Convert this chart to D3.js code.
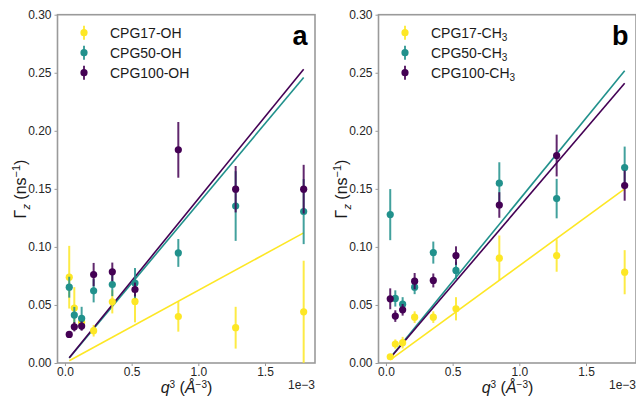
<!DOCTYPE html>
<html>
<head>
<meta charset="utf-8">
<script src="https://cdn.jsdelivr.net/npm/d3@7"></script>
<style>
  body { margin: 0; background: white; }
  text { font-family: "Liberation Sans", Arial, sans-serif; }
</style>
</head>
<body>
<main></main>
<script>
// q^3 values (units of 1e-3 A^-3)
const q3 = [0.032, 0.070, 0.125, 0.215, 0.355, 0.525, 0.85, 1.28, 1.79]

// panel a (OH)
const ohNames = ["CPG17-OH", "CPG50-OH", "CPG100-OH"]
const oh17 = [0.0739, 0.0473, 0.035, 0.0278, 0.0527, 0.053, 0.040, 0.0304, 0.0441]
const oh17err = [0.027, 0.018, 0.005, 0.005, 0.010, 0.018, 0.013, 0.018, 0.044]
const oh50 = [0.0653, 0.0413, 0.0384, 0.0622, 0.0676, 0.0688, 0.0948, 0.1352, 0.1304]
const oh50err = [0.009, 0.007, 0.010, 0.010, 0.010, 0.013, 0.012, 0.030, 0.028]
const oh100 = [0.0246, 0.0312, 0.0318, 0.0762, 0.0785, 0.0633, 0.1836, 0.1497, 0.1497]
const oh100err = [0.002, 0.004, 0.004, 0.010, 0.008, 0.006, 0.024, 0.020, 0.021]
const ohSlopes = [0.0626, 0.1374, 0.1414]

// panel b (CH3)
const chNames = ["CPG17-CH", "CPG50-CH", "CPG100-CH"]
const ch17 = [0.0054, 0.0163, 0.0175, 0.0395, 0.0395, 0.0467, 0.0903, 0.0926, 0.0782]
const ch17err = [0.002, 0.004, 0.005, 0.005, 0.005, 0.010, 0.0195, 0.014, 0.019]
const ch50 = [0.1278, 0.0556, 0.0507, 0.0653, 0.0951, 0.0797, 0.1549, 0.1416, 0.1684]
const ch50err = [0.022, 0.007, 0.006, 0.006, 0.0095, 0.0075, 0.018, 0.017, 0.018]
const ch100 = [0.0553, 0.0404, 0.0458, 0.0705, 0.0711, 0.0925, 0.1361, 0.1787, 0.1528]
const ch100err = [0.009, 0.005, 0.005, 0.007, 0.006, 0.008, 0.011, 0.018, 0.013]
const chSlopes = [0.0838, 0.1406, 0.1346]

const xTicks = [0.0, 0.5, 1.0, 1.5]
const yTicks = [0.00, 0.05, 0.10, 0.15, 0.20, 0.25, 0.30]

const colors = ["#fde725", "#21918c", "#440154"]

const svgWidth = 636
const svgHeight = 398

let svg = d3.select("main")
    .append("svg")
    .attr("width", svgWidth)
    .attr("height", svgHeight)

function drawPanel(left, names, sub, ys, errs, slopes, letter) {
    let xScale = d3.scaleLinear()
        .domain([-0.056, 1.875])
        .range([left, left + 257.5])

    let yScale = d3.scaleLinear()
        .domain([0, 0.30])
        .range([363, 14.7])

    let g = svg.append("g")

    // axes
    let bottomAxis = d3.axisBottom(xScale)
        .tickValues(xTicks)
        .tickFormat(d3.format(".1f"))
        .tickSize(3)
        .tickSizeOuter(0)
    let xAxis = g.append("g")
        .attr("transform", "translate(0, 363)")
        .call(bottomAxis)

    let leftAxis = d3.axisLeft(yScale)
        .tickValues(yTicks)
        .tickFormat(d3.format(".2f"))
        .tickSize(3)
        .tickSizeOuter(0)
    let yAxis = g.append("g")
        .attr("transform", `translate(${left}, 0)`)
        .call(leftAxis)

    // frame
    g.append("rect")
        .attr("x", left)
        .attr("y", 14.7)
        .attr("width", 257.5)
        .attr("height", 363 - 14.7)
        .attr("fill", "none")
        .attr("stroke", "#9a9a9a")
        .attr("stroke-width", 1.6)

    for (let ax of [xAxis, yAxis]) {
        ax.select("path").remove()
        ax.selectAll("line").attr("stroke", "#9a9a9a").attr("stroke-width", 1)
        ax.selectAll("text")
            .attr("fill", "#262626")
            .style("font-size", "12px")
    }
    xAxis.selectAll("text").attr("dy", "0.55em")

    // fit lines
    for (let s = 0; s < 3; s++) {
        let x0 = d3.min(q3), x1 = d3.max(q3)
        g.append("line")
            .attr("x1", xScale(x0))
            .attr("y1", yScale(slopes[s] * x0))
            .attr("x2", xScale(x1))
            .attr("y2", yScale(slopes[s] * x1))
            .attr("stroke", colors[s])
            .attr("stroke-width", 1.6)
    }

    // error bars and points
    for (let s = 0; s < 3; s++) {
        let data = q3.map((x, i) => ({ x: x, y: ys[s][i], e: errs[s][i] }))
        let sg = g.append("g")
        sg.selectAll("line")
            .data(data)
            .enter()
            .append("line")
            .attr("x1", d => xScale(d.x))
            .attr("x2", d => xScale(d.x))
            .attr("y1", d => yScale(d.y - d.e))
            .attr("y2", d => yScale(d.y + d.e))
            .attr("stroke", colors[s])
            .attr("stroke-opacity", 0.85)
            .attr("stroke-width", 2)
        sg.selectAll("circle")
            .data(data)
            .enter()
            .append("circle")
            .attr("cx", d => xScale(d.x))
            .attr("cy", d => yScale(d.y))
            .attr("r", 3.6)
            .attr("fill", colors[s])
    }

    // legend
    for (let s = 0; s < 3; s++) {
        let ly = 32.7 + s * 20
        let mx = left + 26.5
        g.append("line")
            .attr("x1", mx).attr("x2", mx)
            .attr("y1", ly - 7).attr("y2", ly + 7)
            .attr("stroke", colors[s])
            .attr("stroke-opacity", 0.85)
            .attr("stroke-width", 2)
        g.append("circle")
            .attr("cx", mx).attr("cy", ly).attr("r", 3.6)
            .attr("fill", colors[s])
        let t = g.append("text")
            .attr("x", left + 52.5)
            .attr("y", ly + 5)
            .attr("fill", "#1a1a1a")
            .style("font-size", "14px")
            .text(names[s])
        if (sub) {
            t.append("tspan")
                .attr("dy", 3)
                .style("font-size", "10px")
                .text("3")
        }
    }

    // panel letter
    g.append("text")
        .attr("x", left + 250)
        .attr("y", 45)
        .attr("text-anchor", "end")
        .style("font-size", "27px")
        .style("font-weight", "bold")
        .attr("fill", "black")
        .text(letter)

    // y label
    let yl = g.append("text")
        .attr("transform", `translate(${left - 32}, 189) rotate(-90)`)
        .attr("text-anchor", "middle")
        .attr("fill", "#1a1a1a")
        .style("font-size", "16px")
    yl.append("tspan").text("Γ")
    yl.append("tspan").attr("dy", 4).style("font-size", "11px").style("font-style", "italic").text("z")
    yl.append("tspan").attr("dy", -4).text(" (ns")
    yl.append("tspan").attr("dy", -6).style("font-size", "11px").text("−1")
    yl.append("tspan").attr("dy", 6).text(")")

    // x label
    let xl = g.append("text")
        .attr("x", left + 129)
        .attr("y", 393)
        .attr("text-anchor", "middle")
        .attr("fill", "#1a1a1a")
        .style("font-size", "16px")
    xl.append("tspan").style("font-style", "italic").text("q")
    xl.append("tspan").attr("dy", -5).style("font-size", "10px").text("3")
    xl.append("tspan").attr("dy", 5).text(" (")
    xl.append("tspan").style("font-style", "italic").text("Å")
    xl.append("tspan").attr("dy", -5).style("font-size", "10px").text("−3")
    xl.append("tspan").attr("dy", 5).text(")")

    // offset text
    g.append("text")
        .attr("x", left + 257.5)
        .attr("y", 389)
        .attr("text-anchor", "end")
        .attr("fill", "#262626")
        .style("font-size", "12px")
        .text("1e−3")
}

drawPanel(57.5, ohNames, false, [oh17, oh50, oh100], [oh17err, oh50err, oh100err], ohSlopes, "a")
drawPanel(378.5, chNames, true, [ch17, ch50, ch100], [ch17err, ch50err, ch100err], chSlopes, "b")
</script>
</body>
</html>
